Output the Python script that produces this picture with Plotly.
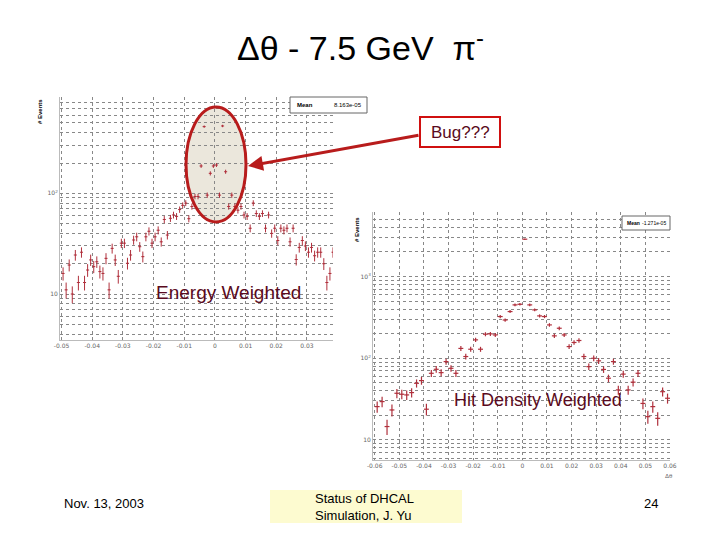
import numpy as np
import plotly.graph_objects as go

# Energy weighted (left), bins of 0.001 starting at -0.050
ew_counts = [16,11,19.4,10,24.4,13,26,13,17.3,21.8,18.7,20.9,16.7,16,22.6,11,28.4,21.8,15,32,
             32,20.2,24.4,34.4,37,29.5,23.5,37,42,32,37,43,33,55,38.5,56.5,61,59,69,76,
             80,56,74,93,93,187,460,96,158,187,191,96,467,164,74,96,74,68,74,61,
             59,45,80,63,59,63,45,61,40,45,34,45,43,45,33,45,22,29,34,30,
             26,29,24,26,26,20,13,16,26,15]
ew_start, ew_width = -0.050, 0.001
# Hit density weighted (right), bins of 0.002 starting at -0.060
hd_counts = [25.6,29.5,14.6,23.3,37.3,36.3,35.6,38,49.4,53.3,23.8,65.5,73.3,66.7,91,75.4,65.5,132,105,129,
             168,129,197,199,193,324,294,373,450,458,2866,450,391,330,324,256,188,233,193,139,
             156,165,105,79,100,93,73,57,91,41,64,41,51,65.5,28,19.3,25.6,18.4,39,32.4]
hd_start, hd_width = -0.060, 0.002

ew_x = ew_start + ew_width*(np.arange(len(ew_counts))+0.5)
hd_x = hd_start + hd_width*(np.arange(len(hd_counts))+0.5)
ew_y = np.array(ew_counts); hd_y = np.array(hd_counts)

OFF = 8  # page body margin
def px(x): return (x-OFF)/720
def py(y): return 1-(y-OFF)/540

RED = "#b0303c"
fig = go.Figure()
fig.add_trace(go.Scatter(x=ew_x, y=ew_y, mode="markers", xaxis="x", yaxis="y",
    marker=dict(size=1, color=RED),
    error_x=dict(type="constant", value=ew_width/2, color=RED, thickness=1, width=0),
    error_y=dict(type="data", array=np.sqrt(ew_y)*0.6, color=RED, thickness=1, width=0)))
fig.add_trace(go.Scatter(x=hd_x, y=hd_y, mode="markers", xaxis="x2", yaxis="y2",
    marker=dict(size=1, color=RED),
    error_x=dict(type="constant", value=hd_width/2, color=RED, thickness=1.2, width=0),
    error_y=dict(type="data", array=np.sqrt(hd_y)*0.8, color=RED, thickness=1.2, width=0)))

def logticks(lo, hi):
    vals, txt = [], []
    for d in range(lo, hi):
        for m in range(1, 10):
            vals.append(m*10**d)
            if m == 1:
                txt.append("10" if d == 1 else "10<sup>%d</sup>" % d)
            else:
                txt.append("")
    return vals, txt

grid = dict(showgrid=True, gridcolor="#888", griddash="dot", gridwidth=1, zeroline=False, automargin=False,
            showline=True, linecolor="#bbb", ticks="", tickfont=dict(size=6, color="#666", family="DejaVu Sans"))
v1, t1 = logticks(0, 3)
v2, t2 = logticks(0, 4)
fig.update_layout(
    width=720, height=540, autosize=False, margin=dict(l=0, r=0, t=0, b=0, pad=0, autoexpand=False), showlegend=False,
    paper_bgcolor="white", plot_bgcolor="white",
    xaxis=dict(domain=[px(60), px(333)], range=[-0.0505, 0.0385], anchor="y",
               tickvals=[-0.05,-0.04,-0.03,-0.02,-0.01,0,0.01,0.02,0.03],
               ticktext=["-0.05","-0.04","-0.03","-0.02","-0.01","0","0.01","0.02","0.03"], **grid),
    yaxis=dict(domain=[py(340), py(97)], type="log", range=[0.543, 2.957], anchor="x",
               tickvals=v1, ticktext=t1, **grid),
    xaxis2=dict(domain=[px(373), px(670)], range=[-0.0607, 0.060], anchor="y2",
                tickvals=[-0.06,-0.05,-0.04,-0.03,-0.02,-0.01,0,0.01,0.02,0.03,0.04,0.05,0.06],
                ticktext=["-0.06","-0.05","-0.04","-0.03","-0.02","-0.01","0","0.01","0.02","0.03","0.04","0.05","0.06"], **grid),
    yaxis2=dict(domain=[py(460), py(212)], type="log", range=[0.755, 3.79], anchor="x2",
                tickvals=v2, ticktext=t2, **grid),
)

shapes = [
    dict(type="rect", xref="paper", yref="paper", x0=px(342), x1=px(690), y0=py(478), y1=py(210),
         fillcolor="white", line=dict(width=0), layer="below"),
    dict(type="circle", xref="paper", yref="paper", x0=px(186), x1=px(246), y0=py(222), y1=py(107),
         fillcolor="#ebe7dc", line=dict(width=0), layer="below"),
    dict(type="circle", xref="paper", yref="paper", x0=px(186), x1=px(246), y0=py(222), y1=py(107),
         line=dict(color="#b81c1c", width=3), layer="above"),
    dict(type="rect", xref="paper", yref="paper", x0=px(290), x1=px(367), y0=py(113), y1=py(97),
         fillcolor="white", line=dict(color="#666", width=1)),
    dict(type="rect", xref="paper", yref="paper", x0=px(622), x1=px(670), y0=py(230), y1=py(216),
         fillcolor="white", line=dict(color="#666", width=1)),
    dict(type="rect", xref="paper", yref="paper", x0=px(420), x1=px(500), y0=py(147), y1=py(117),
         fillcolor="white", line=dict(color="#d01010", width=2)),
    dict(type="rect", xref="paper", yref="paper", x0=px(270), x1=px(462), y0=py(523), y1=py(490),
         fillcolor="#fdfbd0", line=dict(width=0)),
]
fig.update_layout(shapes=shapes)

def ann(x, y, text, size, color="black", family="Liberation Sans, Arial", xanchor="center", **kw):
    fig.add_annotation(xref="paper", yref="paper", x=px(x), y=py(y), text=text, showarrow=False,
                       font=dict(size=size, color=color, family=family), xanchor=xanchor,
                       yanchor="middle", **kw)

ann(360, 45, "Δθ - 7.5 GeV  π<sup>-</sup>", 34)
ann(228, 292, "Energy Weighted", 19, "#5a0a20")
ann(538, 400, "Hit Density Weighted", 18, "#5a0a20")
ann(460, 132, "Bug???", 17, "#5a0a20")
ann(295, 105, "<b>Mean</b>", 6, xanchor="left")
ann(364, 105, "8.163e-05", 6, xanchor="right")
ann(625, 223, "<b>Mean</b>", 5, xanchor="left")
ann(668, 223, "-1.271e-05", 5, xanchor="right")
ann(40, 112, "<b># Events</b>", 6, textangle=-90)
ann(357, 230, "<b># Events</b>", 6, textangle=-90)
ann(669, 476, "Δθ", 6, "#666")
ann(104, 503, "Nov. 13, 2003", 13)
ann(313, 507, "Status of DHCAL<br>Simulation, J. Yu", 13, xanchor="left", align="left")
ann(651, 503, "24", 13)

fig.add_annotation(xref="paper", yref="paper", axref="pixel", ayref="pixel",
                   x=px(248), y=py(166), ax=172, ay=-31, text="", showarrow=True,
                   arrowhead=2, arrowsize=1, arrowwidth=3, arrowcolor="#b81c1c")

fig.write_html("out.html")
